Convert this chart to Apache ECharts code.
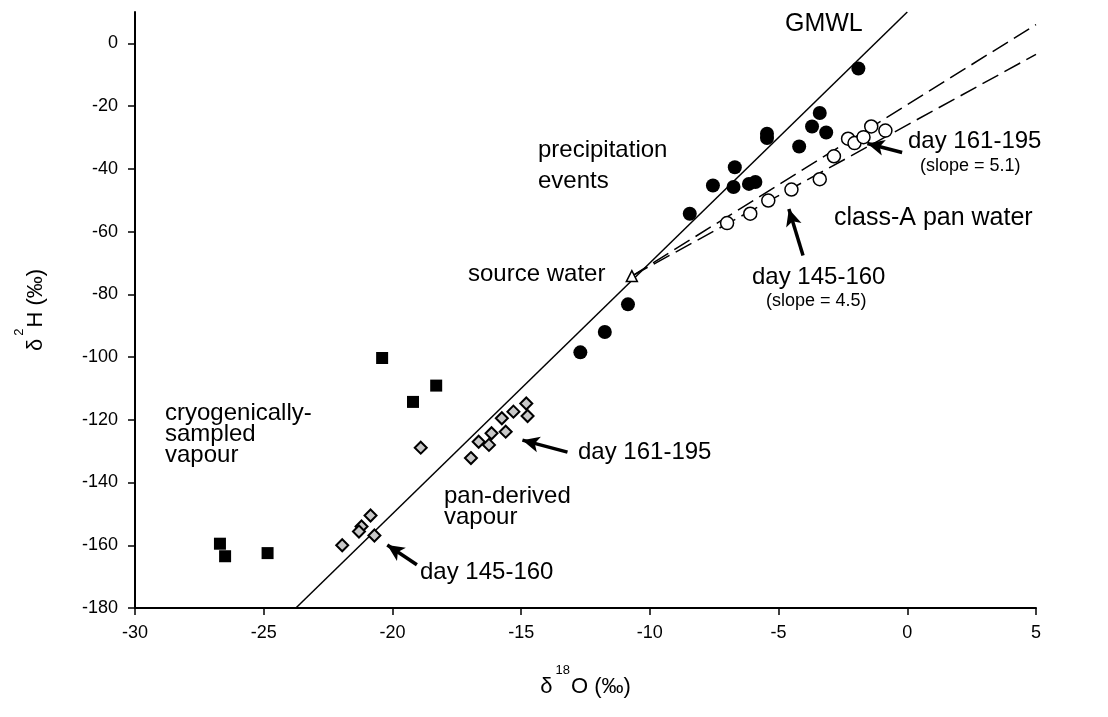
<!DOCTYPE html>
<html>
<head>
<meta charset="utf-8">
<script src="https://cdn.jsdelivr.net/npm/echarts@6/dist/echarts.min.js"></script>
<style>html,body{margin:0;padding:0;background:#fff}#c{width:1108px;height:717px}</style>
</head>
<body>
<div id="c"></div>
<script>
// ---- data ----
var xTicks = [-30, -25, -20, -15, -10, -5, 0, 5];
var yTicks = [-180, -160, -140, -120, -100, -80, -60, -40, -20, 0];

var precipitation = [
  [-1.9, -8], [-3.4, -22.2], [-3.7, -26.5], [-3.15, -28.4], [-5.45, -28.8], [-5.45, -30.2],
  [-4.2, -32.9], [-6.7, -39.5], [-7.55, -45.3], [-6.75, -45.8], [-6.15, -44.8], [-5.9, -44.2],
  [-8.45, -54.3], [-10.85, -83.2], [-11.75, -92], [-12.7, -98.5]
];
var panWater = [
  [-7.0, -57.3], [-6.1, -54.3], [-5.4, -50.1], [-4.5, -46.6], [-3.4, -43.3], [-2.85, -36],
  [-2.3, -30.4], [-2.05, -31.8], [-1.7, -29.9], [-1.4, -26.5], [-0.85, -27.8]
];
var panVapour = [
  [-18.9, -128.9], [-20.85, -150.5], [-21.2, -154], [-21.3, -155.6], [-20.7, -156.9], [-21.95, -160],
  [-14.8, -114.8], [-14.75, -118.8], [-15.3, -117.4], [-15.75, -119.5], [-15.6, -123.8],
  [-16.15, -124.3], [-16.65, -127], [-16.25, -128], [-16.95, -132.2]
];
var cryoVapour = [
  [-20.4, -100.3], [-19.2, -114.3], [-18.3, -109.1], [-24.85, -162.5], [-26.7, -159.5], [-26.5, -163.5]
];
var sourceWater = [[-10.7, -74.2]];
var gmwl = [[-23.75, -180], [0, 10]];
var dashUpper = [[-10.7, -74.2], [5, 6]];     // slope ~5.1
var dashLower = [[-10.7, -74.2], [5, -3.5]];  // slope ~4.5
// arrows: [tail, tip]
var arrows = [
  [[-0.2, -34.8], [-1.55, -31.9]],
  [[-4.05, -67.6], [-4.6, -52.8]],
  [[-13.2, -130.3], [-14.95, -126.5]],
  [[-19.05, -166.2], [-20.2, -159.9]]
];

var FONT = '"Liberation Sans", Arial, Helvetica, sans-serif';
var chart = echarts.init(document.getElementById('c'), null, {renderer: 'canvas'});

function txt(text, x, y, size, lh) {
  return {
    type: 'text', x: x, y: y, z: 100,
    style: {text: text, fill: '#000', font: size + 'px ' + FONT, lineHeight: lh || size, verticalAlign: 'middle'}
  };
}
var nameRich = {
  a: {fontFamily: FONT, fontSize: 22, color: '#000', lineHeight: 34, verticalAlign: 'bottom'},
  s: {fontFamily: FONT, fontSize: 13, color: '#000', lineHeight: 34, verticalAlign: 'top', padding: [0, 1, 0, 3]}
};

var option = {
  backgroundColor: '#fff',
  animation: false,
  grid: {left: 135, right: 72, top: 12, bottom: 109},
  xAxis: {
    type: 'value', min: -30, max: 5, interval: 5,
    name: '{a|δ}{s|18}{a|O (‰)}', nameLocation: 'middle', nameGap: 56,
    nameTextStyle: {rich: nameRich},
    axisLine: {onZero: false, lineStyle: {color: '#000', width: 2}},
    axisTick: {show: true, length: 7, lineStyle: {color: '#000', width: 1.5}, customValues: xTicks},
    axisLabel: {color: '#000', fontFamily: FONT, fontSize: 18, margin: 16, customValues: xTicks},
    splitLine: {show: false}
  },
  yAxis: {
    type: 'value', min: -180, max: 10, interval: 20,
    name: '{a|δ}{s|2}{a|H (‰)}', nameLocation: 'middle', nameGap: 88, nameRotate: 90,
    nameTextStyle: {rich: nameRich},
    axisLine: {onZero: false, lineStyle: {color: '#000', width: 2}},
    axisTick: {show: true, length: 7, lineStyle: {color: '#000', width: 1.5}, customValues: yTicks},
    axisLabel: {color: '#000', fontFamily: FONT, fontSize: 18, margin: 17, customValues: yTicks},
    splitLine: {show: false}
  },
  series: [
    {type: 'line', data: gmwl, symbol: 'none', lineStyle: {color: '#000', width: 1.5}, z: 2},
    {type: 'line', data: dashUpper, symbol: 'none', lineStyle: {color: '#000', width: 1.5, type: [18, 7]}, z: 2},
    {type: 'line', data: dashLower, symbol: 'none', lineStyle: {color: '#000', width: 1.5, type: [18, 7]}, z: 2},
    {type: 'scatter', data: precipitation, symbol: 'circle', symbolSize: 14,
      itemStyle: {color: '#000', opacity: 1}, z: 5},
    {type: 'scatter', data: panWater, symbol: 'circle', symbolSize: 13,
      itemStyle: {color: '#fff', borderColor: '#000', borderWidth: 1.5, opacity: 1}, z: 5},
    {type: 'scatter', data: panVapour, symbol: 'diamond', symbolSize: [12, 12],
      itemStyle: {color: '#c8c8c8', borderColor: '#000', borderWidth: 2, opacity: 1}, z: 5},
    {type: 'scatter', data: cryoVapour, symbol: 'rect', symbolSize: 12,
      itemStyle: {color: '#000', opacity: 1}, z: 5},
    {type: 'scatter', data: sourceWater, symbol: 'triangle', symbolSize: 11,
      itemStyle: {color: '#fff', borderColor: '#000', borderWidth: 1.5, opacity: 1}, z: 6},
    {type: 'line', data: [], symbol: 'none', z: 7,
      markLine: {
        silent: true, symbol: ['none', 'arrow'], symbolSize: [12, 17], label: {show: false},
        lineStyle: {color: '#000', width: 3.5, type: 'solid'},
        data: arrows.map(function (a) { return [{coord: a[0]}, {coord: a[1]}]; })
      }
    }
  ],
  graphic: [
    txt('GMWL', 785, 24, 25),
    txt('precipitation\nevents', 538, 166, 24, 31),
    txt('source water', 468, 274, 24),
    txt('class-A pan water', 834, 218, 25),
    txt('day 161-195', 908, 141, 24),
    txt('(slope = 5.1)', 920, 166, 18),
    txt('day 145-160', 752, 277, 24),
    txt('(slope = 4.5)', 766, 301, 18),
    txt('cryogenically-\nsampled\nvapour', 165, 434, 24, 21),
    txt('pan-derived\nvapour', 444, 507, 24, 21),
    txt('day 161-195', 578, 452, 24),
    txt('day 145-160', 420, 572, 24)
  ]
};
chart.setOption(option);
</script>
</body>
</html>
